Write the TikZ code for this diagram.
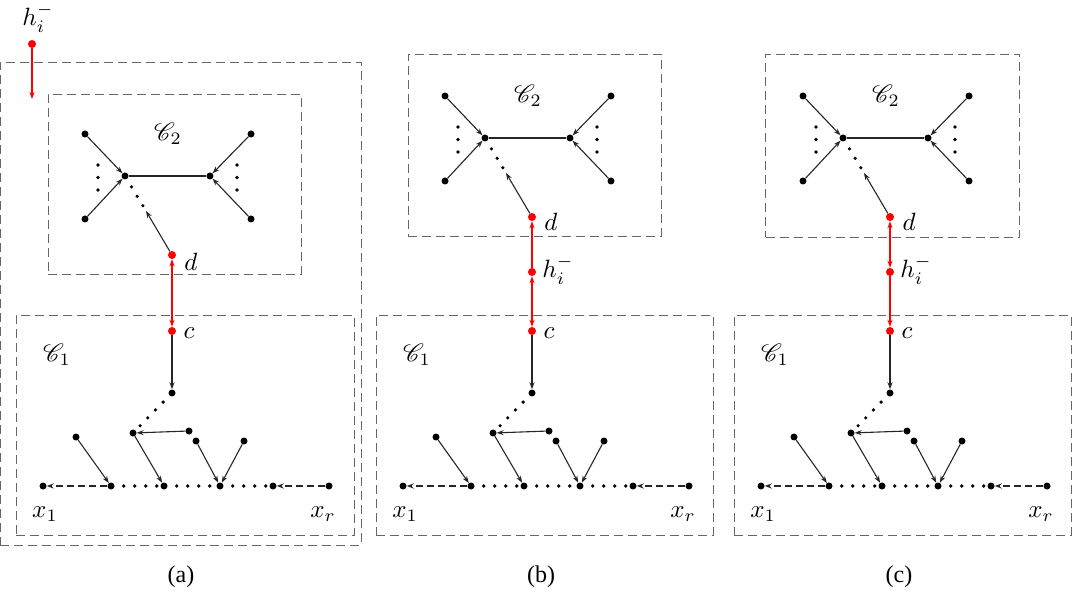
\documentclass[tikz,border=0pt]{standalone}
\usepackage{fontspec}
\setmainfont{Liberation Serif}
\usepackage{mathrsfs}
\usetikzlibrary{arrows.meta}
\newcommand\DrawCtwo[1]{%
  \node[bdot] (#1L) at (125,176) {};
  \node[bdot] (#1R) at (210,176) {};
  \node[bdot] (#1LA) at (85,134) {};
  \node[bdot] (#1LB) at (85,219) {};
  \node[bdot] (#1RA) at (251,134) {};
  \node[bdot] (#1RB) at (251,219) {};
  \coordinate (#1M) at (146,211);
  \draw[edge] (#1LA) -- (#1L);
  \draw[edge] (#1LB) -- (#1L);
  \draw[edge] (#1RA) -- (#1R);
  \draw[edge] (#1RB) -- (#1R);
  \draw[plain] (#1L) -- (#1R);
  \draw[dotline] (#1L) -- (#1M);
  \draw[vdots] (98,165) -- (98,191);
  \draw[vdots] (237,165) -- (237,191);
  \node[lab] at (168,134) {$\mathscr{C}_2$};
}
\newcommand\DrawCone[1]{%
  \node[bdot] (#1T) at (172,393) {};
  \node[bdot] (#1P) at (133,433) {};
  \node[bdot] (#1Q) at (189,431) {};
  \node[bdot] (#1A) at (76,437) {};
  \node[bdot] (#1B) at (196,441) {};
  \node[bdot] (#1E) at (244,441) {};
  \node[bdot] (#1X) at (43,486) {};
  \node[bdot] (#1Y1) at (111,486) {};
  \node[bdot] (#1Y2) at (164,486) {};
  \node[bdot] (#1Y3) at (220,486) {};
  \node[bdot] (#1Y4) at (273,486) {};
  \node[bdot] (#1XR) at (329,486) {};
  \draw[dotline] (#1T) -- (#1P);
  \draw[edge] (#1Q) -- (#1P);
  \draw[edge] (#1A) -- (#1Y1);
  \draw[edge] (#1P) -- (#1Y2);
  \draw[edge] (#1B) -- (#1Y3);
  \draw[edge] (#1E) -- (#1Y3);
  \draw[edge,dashed,dash pattern=on 7pt off 4pt] (#1Y1) -- (#1X);
  \draw[edge,dashed,dash pattern=on 7pt off 4pt] (#1XR) -- (#1Y4);
  \draw[dotline] (#1Y1) -- (#1Y2);
  \draw[dotline] (#1Y2) -- (#1Y3);
  \draw[dotline] (#1Y3) -- (#1Y4);
  \node[lab] at (57,355) {$\mathscr{C}_1$};
  \node[lab] at (45,514) {$x_1$};
  \node[lab] at (323,514) {$x_r$};
}
\begin{document}
\begin{tikzpicture}[x=1pt,y=-1pt,
  bdot/.style={circle,fill=black,inner sep=0pt,minimum size=7pt},
  rdot/.style={circle,fill=red,inner sep=0pt,minimum size=8pt},
  edge/.style={-{Stealth[length=7pt,width=5pt]},line width=1.1pt,black!85},
  redge/.style={-{Stealth[length=7pt,width=5pt]},line width=1.4pt,red},
  plain/.style={line width=1.1pt,black!85},
  dotline/.style={line width=3.6pt,line cap=round,dash pattern=on 0pt off 11pt,shorten <=9pt},
  vdots/.style={line width=3.6pt,line cap=round,dash pattern=on 0pt off 12.5pt},
  box/.style={draw=black!60,dashed,dash pattern=on 9pt off 5pt,line width=0.9pt},
  lab/.style={scale=2.5,transform shape,inner sep=0pt},
  captxt/.style={scale=2.4,transform shape,inner sep=0pt}]
\useasboundingbox (0,0) rectangle (1072,596);
% panel (a)
\node[box,minimum width=361pt,minimum height=483pt,inner sep=0pt] (outerA) at (180.5,303.5) {};
\node[box,minimum width=253pt,minimum height=180pt,inner sep=0pt] (c2A) at (174.5,184) {};
\node[box,minimum width=338pt,minimum height=220pt,inner sep=0pt] (c1A) at (185,425) {};
\DrawCtwo{a}
\DrawCone{a}
\node[rdot] (hA) at (32,44) {};
\coordinate (hAend) at (32,99);
\draw[redge] (hA) -- (hAend);
\node[lab] at (38,18) {$h_i^-$};
\node[rdot] (dA) at (172,255) {};
\node[rdot] (cA) at (172,331) {};
\draw[edge] (dA) -- (aM);
\draw[redge,{Stealth[length=7pt,width=5pt]}-{Stealth[length=7pt,width=5pt]}] (dA) -- (cA);
\draw[edge] (cA) -- (aT);
\node[lab] at (191,262) {$d$};
\node[lab] at (189,333) {$c$};
\node[captxt] (capA) at (181,577) {(a)};
% panel (b)
\begin{scope}[shift={(360,-38)}]
\node[box,minimum width=253pt,minimum height=182pt,inner sep=0pt] (c2B) at (174.5,183) {};
\DrawCtwo{b}
\end{scope}
\begin{scope}[shift={(360,0)}]
\node[box,minimum width=337pt,minimum height=220pt,inner sep=0pt] (c1B) at (184.5,425) {};
\DrawCone{b}
\node[rdot] (dB) at (172,217) {};
\node[rdot] (hB) at (172,272) {};
\node[rdot] (cB) at (172,331) {};
\node[lab] at (191,222) {$d$};
\node[lab] at (198,270) {$h_i^-$};
\node[lab] at (189,333) {$c$};
\node[captxt] (capB) at (181,577) {(b)};
\end{scope}
\draw[edge] (dB) -- (bM);
\draw[redge] (hB) -- (dB);
\draw[redge,{Stealth[length=7pt,width=5pt]}-{Stealth[length=7pt,width=5pt]}] (hB) -- (cB);
\draw[edge] (cB) -- (bT);
% panel (c)
\begin{scope}[shift={(718,-38)}]
\node[box,minimum width=254pt,minimum height=183pt,inner sep=0pt] (c2C) at (174.5,183.5) {};
\DrawCtwo{c}
\end{scope}
\begin{scope}[shift={(718,0)}]
\node[box,minimum width=337pt,minimum height=220pt,inner sep=0pt] (c1C) at (184.5,425) {};
\DrawCone{c}
\node[rdot] (dC) at (172,217) {};
\node[rdot] (hC) at (172,272) {};
\node[rdot] (cC) at (172,331) {};
\node[lab] at (191,222) {$d$};
\node[lab] at (198,270) {$h_i^-$};
\node[lab] at (189,333) {$c$};
\node[captxt] (capC) at (181,577) {(c)};
\end{scope}
\draw[edge] (dC) -- (cM);
\draw[redge,{Stealth[length=7pt,width=5pt]}-{Stealth[length=7pt,width=5pt]}] (dC) -- (hC);
\draw[redge] (hC) -- (cC);
\draw[edge] (cC) -- (cT);
\end{tikzpicture}
\end{document}
